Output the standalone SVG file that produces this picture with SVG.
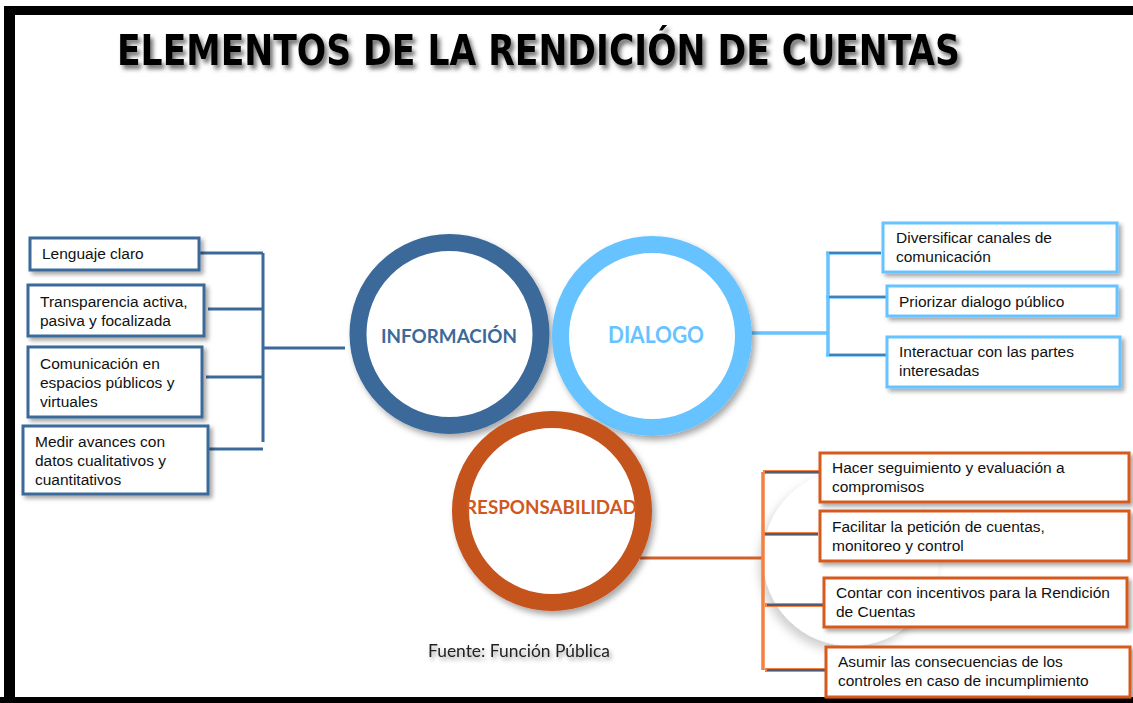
<svg xmlns="http://www.w3.org/2000/svg" width="1133" height="703" viewBox="0 0 1133 703">
<defs>
<filter id="tsh" x="-5%" y="-30%" width="110%" height="170%"><feDropShadow dx="3" dy="4" stdDeviation="2" flood-color="#444" flood-opacity="0.75"/></filter>
<filter id="csh" x="-20%" y="-20%" width="140%" height="140%"><feDropShadow dx="3" dy="4" stdDeviation="3" flood-color="#000" flood-opacity="0.35"/></filter>
<filter id="bsh" x="-10%" y="-20%" width="120%" height="150%"><feDropShadow dx="3" dy="3" stdDeviation="2" flood-color="#000" flood-opacity="0.35"/></filter>
<filter id="wsh" x="-30%" y="-30%" width="160%" height="160%"><feDropShadow dx="-4" dy="6" stdDeviation="5" flood-color="#000" flood-opacity="0.18"/></filter>
<filter id="fsh" x="-10%" y="-40%" width="120%" height="180%"><feDropShadow dx="2" dy="3" stdDeviation="2" flood-color="#000" flood-opacity="0.4"/></filter>
</defs>
<style>
.bt{font-family:"Liberation Sans",Arial,sans-serif;font-size:15.5px;fill:#111}
.ct{font-family:Lato,"Open Sans",sans-serif;font-weight:bold;text-anchor:middle}
.bx{fill:#fff;stroke-width:3;filter:url(#bsh)}
.bl{stroke:#3B6A9A}
.lb{stroke:#66C3FF}
.or{stroke:#D65A1E}
.ring{fill:#fff;stroke-width:17;filter:url(#csh)}
</style>
<rect width="1133" height="703" fill="#fff"/>
<g id="frame" fill="#000">
<rect x="5" y="6" width="1128" height="9"/>
<rect x="4" y="6" width="11" height="697"/>
<rect x="0" y="697" width="1133" height="6"/>
</g>
<g id="title">
<text x="117" y="65" textLength="843" lengthAdjust="spacingAndGlyphs" font-family="'DejaVu Sans Condensed','DejaVu Sans',sans-serif" font-stretch="condensed" font-weight="bold" font-size="42" fill="#000" filter="url(#tsh)">ELEMENTOS DE LA RENDICIÓN DE CUENTAS</text>
</g>
<circle cx="851" cy="558" r="88" fill="#fff" filter="url(#wsh)"/>
<g id="connectors" fill="none">
<g stroke="#3B6A9A" stroke-width="3">
<path d="M199,253H263M208,309H263M206,377H263M205,449H263M263,253V442M263,348H345"/>
</g>
<g stroke="#66C3FF" stroke-width="3.5">
<path d="M751,333H828M828,253V355M826,253H881M826,297H886M826,355H886"/>
</g>
<g stroke="#3B6A9A" stroke-width="1.5">
<path d="M829,253H881M829,297H886M829,355H886"/>
</g>
<path d="M640,558H763" stroke="#D0602A" stroke-width="3"/>
<path d="M763,472V670" stroke="#F4813F" stroke-width="3.5"/>
<g stroke="#F4813F" stroke-width="4">
<path d="M763,472H819M762,534H818M765,605H823M765,670H825"/>
</g>
<g stroke="#4F5E78" stroke-width="2">
<path d="M765,472H819M765,534H818M767,605H823M767,670H825"/>
</g>
</g>
<g id="informacion">
<circle class="ring" cx="449.5" cy="334" r="91.5" stroke="#3B6A9A"/>
<text class="ct" x="449" y="343" font-size="19.5" fill="#3B6A9A" textLength="136" lengthAdjust="spacingAndGlyphs">INFORMACIÓN</text>
</g>
<g id="dialogo">
<circle class="ring" cx="652" cy="336" r="91.5" stroke="#66C3FF"/>
<text class="ct" x="656" y="343" font-size="22" fill="#66C3FF" textLength="96" lengthAdjust="spacingAndGlyphs">DIALOGO</text>
</g>
<g id="responsabilidad">
<circle class="ring" cx="552" cy="511" r="91.5" stroke="#C4521F"/>
<text class="ct" x="551" y="514" font-size="19" fill="#D0581F" textLength="172" lengthAdjust="spacingAndGlyphs">RESPONSABILIDAD</text>
</g>
<g id="l1"><rect class="bx bl" x="30" y="238" width="169" height="32"/><text class="bt" x="42" y="259">Lenguaje claro</text></g>
<g id="l2"><rect class="bx bl" x="28" y="285" width="176" height="51"/><text class="bt" x="40" y="307">Transparencia activa,</text><text class="bt" x="40" y="326">pasiva y focalizada</text></g>
<g id="l3"><rect class="bx bl" x="28" y="347" width="174" height="70"/><text class="bt" x="40" y="369">Comunicación en</text><text class="bt" x="40" y="388">espacios públicos y</text><text class="bt" x="40" y="407">virtuales</text></g>
<g id="l4"><rect class="bx bl" x="23" y="426" width="185" height="68"/><text class="bt" x="35" y="447">Medir avances con</text><text class="bt" x="35" y="466">datos cualitativos y</text><text class="bt" x="35" y="485">cuantitativos</text></g>
<g id="r1"><rect class="bx lb" x="883" y="223" width="234" height="49"/><text class="bt" x="896" y="243">Diversificar canales de</text><text class="bt" x="896" y="262">comunicación</text></g>
<g id="r2"><rect class="bx lb" x="887" y="286" width="230" height="30"/><text class="bt" x="899" y="307">Priorizar dialogo público</text></g>
<g id="r3"><rect class="bx lb" x="887" y="337" width="233" height="50"/><text class="bt" x="899" y="357">Interactuar con las partes</text><text class="bt" x="899" y="376">interesadas</text></g>
<g id="o1"><rect class="bx or" x="820" y="453" width="309" height="49"/><text class="bt" x="832" y="473">Hacer seguimiento y evaluación a</text><text class="bt" x="832" y="492">compromisos</text></g>
<g id="o2"><rect class="bx or" x="820" y="511" width="309" height="50"/><text class="bt" x="832" y="532">Facilitar la petición de cuentas,</text><text class="bt" x="832" y="551">monitoreo y control</text></g>
<g id="o3"><rect class="bx or" x="824" y="578" width="303" height="49"/><text class="bt" x="836" y="598">Contar con incentivos para la Rendición</text><text class="bt" x="836" y="617">de Cuentas</text></g>
<g id="o4"><rect class="bx or" x="826" y="647" width="304" height="50"/><text class="bt" x="838" y="667">Asumir  las consecuencias de los</text><text class="bt" x="838" y="686">controles en caso de incumplimiento</text></g>
<g id="fuente"><text x="428" y="657" font-family="Lato,'Open Sans',sans-serif" font-size="17" fill="#222" textLength="182" lengthAdjust="spacingAndGlyphs" filter="url(#fsh)">Fuente: Función Pública</text></g>
</svg>
